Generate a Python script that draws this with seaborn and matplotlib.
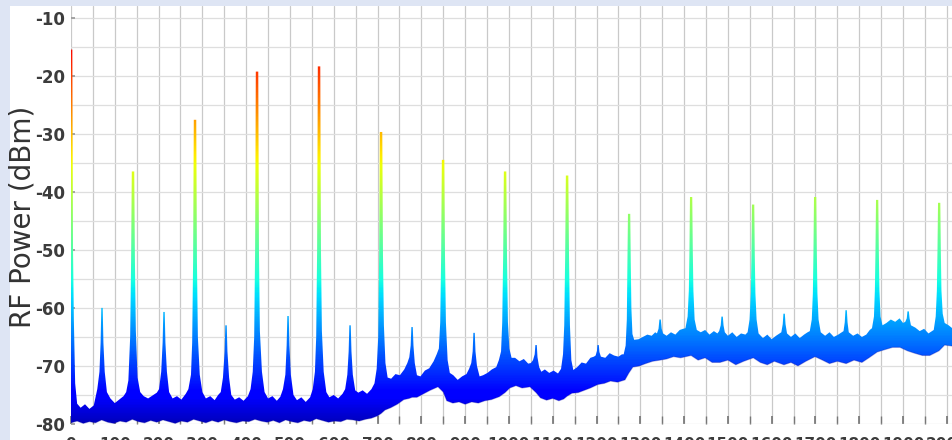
"""
RF spectrum plot: harmonic comb with jet-colored trace
"""
import numpy as np
import pandas as pd
import matplotlib
matplotlib.use('Agg')
import matplotlib.pyplot as plt
from matplotlib.patches import Rectangle
from matplotlib.ticker import MultipleLocator
import seaborn as sns

sns.set_theme(style='whitegrid')
plt.rcParams['font.family'] = ['DejaVu Sans']
plt.rcParams['axes.unicode_minus'] = False

# ============================================================
# Data (frequency in MHz, power in dBm)
# upper edge of the trace: peaks + noise floor top
# ============================================================
trace_mhz = [
    0, 3, 4.6, 6.5, 9.5, 14,
    22, 32, 42, 52,
    60, 65, 67.6, 69.2, 72.4, 74, 77, 82,
    90, 100, 110, 120,
    126, 131, 135.1, 137.2, 138.8, 144.4, 146, 148.1, 152, 158,
    166, 176, 186, 196,
    201, 206, 209.2, 210.8, 214, 215.6, 219, 224,
    232, 242, 252, 262,
    268, 274, 276.7, 278.8, 280.4, 286, 287.6, 289.7, 294, 300,
    308, 318, 328, 336,
    342, 347, 350.8, 352.4, 355.6, 357.2, 361, 366,
    374, 384, 394, 404,
    410, 415, 418.3, 420.4, 422, 427.6, 429.2, 431.3, 436, 442,
    450, 460, 470, 478,
    484, 489.5, 492.4, 494, 497.2, 498.8, 502, 508,
    516, 526, 536, 546,
    552, 557, 559.9, 562, 563.6, 569.2, 570.8, 572.9, 577, 583,
    590, 600, 610, 620,
    626, 631, 634, 635.6, 638.8, 640.4, 643.5, 649,
    656, 666, 676, 686,
    693, 698, 701.5, 703.6, 705.2, 710.8, 712.4, 714.5, 718, 723,
    731, 741, 751, 761,
    768, 772.5, 775.6, 777.2, 780.4, 782, 785, 790,
    798, 808, 818, 828,
    835, 840, 843.1, 845.2, 846.8, 852.4, 854, 856.1, 860, 865,
    873, 883, 893, 903,
    909, 914, 917.2, 918.8, 922, 923.6, 927, 933,
    941, 951, 961, 971,
    977, 982, 984.7, 986.8, 988.4, 994, 995.6, 997.7, 1001, 1006,
    1014, 1024, 1034, 1044,
    1050, 1055, 1058.8, 1060.4, 1063.6, 1065.2, 1069, 1074,
    1082, 1092, 1102, 1112,
    1119, 1123.5, 1126.3, 1128.4, 1130, 1135.6, 1137.2, 1139.3, 1142.5, 1147,
    1156, 1166, 1176, 1186, 1194,
    1198, 1201, 1202, 1205.2, 1206.6, 1210,
    1220, 1230, 1240, 1250, 1258,
    1262, 1266.5, 1269.2, 1270.6, 1271.8, 1277, 1278.2, 1279.6, 1282, 1286,
    1296, 1306, 1316, 1326, 1334,
    1338, 1341.6, 1343.6, 1346.8, 1348.8, 1352,
    1360, 1370, 1380, 1390, 1398,
    1403, 1408, 1410.8, 1412.2, 1413.4, 1418.6, 1419.8, 1421.2, 1424, 1429,
    1438, 1448, 1458, 1468, 1476,
    1480, 1483.6, 1485.2, 1488.4, 1490, 1493,
    1500, 1510, 1520, 1530, 1540,
    1545, 1549.5, 1552.4, 1553.8, 1555, 1560.2, 1561.4, 1562.8, 1565.5, 1570,
    1580, 1590, 1600, 1610, 1618,
    1622, 1625.2, 1626.8, 1630, 1631.6, 1635,
    1644, 1654, 1664, 1674, 1682,
    1687, 1691.5, 1694, 1695.4, 1696.6, 1701.8, 1703, 1704.4, 1707, 1712,
    1722, 1732, 1742, 1752, 1760,
    1764, 1766.8, 1768.4, 1771.6, 1773.2, 1776,
    1786, 1796, 1806, 1816, 1824,
    1829, 1833.5, 1835.6, 1837, 1838.2, 1843.4, 1844.6, 1846, 1848.5, 1853,
    1862, 1872, 1882, 1892, 1900,
    1905, 1908.4, 1910, 1913.2, 1914.8, 1918,
    1928, 1938, 1948, 1958, 1966,
    1970, 1974.5, 1977.2, 1978.6, 1979.8, 1985, 1986.2, 1987.6, 1990.5, 1995,
    2004, 2014,
]
trace_dbm = [
    -15.5, -15.5, -50, -62, -73, -76.5,
    -77.2, -76.6, -77.4, -76.8,
    -74, -71, -66, -60, -60, -66, -71, -74.5,
    -75.6, -76.4, -75.8, -75.2,
    -74.5, -72.5, -65, -52, -36.5, -36.5, -52, -64, -72, -74.5,
    -75.2, -75.6, -75.1, -74.6,
    -74, -71, -66, -60.7, -60.7, -66, -71, -74.5,
    -75.6, -75.2, -75.8, -74.8,
    -74, -71.5, -66, -52, -27.6, -27.6, -52, -65, -71.5, -74.5,
    -75.6, -75.2, -75.9, -75,
    -74.5, -72, -67.5, -63, -63, -67.5, -72, -75,
    -75.8, -75.4, -76, -75.2,
    -74, -71, -65, -50, -19.3, -19.3, -50, -64, -71, -74.5,
    -75.6, -75.2, -76, -75.3,
    -74, -71.5, -66.5, -61.4, -61.4, -66.5, -71.5, -75,
    -75.9, -75.4, -76.2, -75.4,
    -74, -71, -65, -50, -18.4, -18.4, -50, -64, -71, -74.5,
    -75.4, -75, -75.6, -74.8,
    -74, -71.5, -67.5, -63, -63, -67.5, -71.5, -74.2,
    -74.6, -74.2, -74.8, -74,
    -73, -70.5, -65, -51, -29.7, -29.7, -51, -63, -69.5, -72,
    -72.2, -71.4, -71.6, -70.6,
    -69.5, -68.5, -66.5, -63.3, -63.3, -66.5, -69.5, -71.6,
    -71.8, -70.8, -70.4, -69.2,
    -68, -67, -62.5, -51, -34.5, -34.5, -51, -62.5, -69, -71.2,
    -71.6, -72.4, -71.8, -71.4,
    -70.5, -69.5, -67.5, -64.3, -64.3, -67.5, -70, -71.8,
    -71.6, -71.2, -70.6, -70.2,
    -69, -67.5, -62.5, -51, -36.5, -36.5, -51, -62.5, -67, -68.6,
    -68.6, -69.2, -68.8, -69.6,
    -69.5, -69, -68, -66.4, -66.4, -68.5, -70.2, -71,
    -70.6, -71.2, -70.8, -71.3,
    -70.5, -68, -63, -51, -37.2, -37.2, -51, -63, -69, -70.7,
    -70.2, -69.4, -69.6, -68.6, -68.4,
    -68.2, -67.4, -66.4, -66.4, -67.6, -68.4,
    -68.6, -67.8, -68.2, -68.4, -68,
    -68, -66.5, -62, -52, -43.8, -43.8, -52, -60, -64.5, -65.5,
    -65.4, -65, -64.6, -64.8, -64.2,
    -64.4, -63.6, -62, -62, -63.6, -64.4,
    -64.8, -64.2, -64.6, -63.8, -63.6,
    -63.5, -61.5, -57, -50, -40.9, -40.9, -50, -57, -62, -63.8,
    -64.2, -63.8, -64.6, -64, -64.4,
    -64, -63, -61.5, -61.5, -63, -64.2,
    -64.8, -64.2, -65, -64.4, -64.6,
    -64.2, -62, -57.5, -51, -42.2, -42.2, -51, -57.5, -62, -64.4,
    -65.2, -64.6, -65.4, -64.8, -64.4,
    -64.2, -62.8, -61, -61, -62.8, -64.4,
    -65, -64.4, -65.2, -64.6, -64.2,
    -64, -62, -57.5, -50, -40.9, -40.9, -50, -57.5, -62, -64.2,
    -64.8, -64.2, -65, -64.6, -64.2,
    -64, -62.5, -60.4, -60.4, -62.5, -64.2,
    -64.8, -64.4, -65, -64.6, -63.8,
    -63.5, -61.5, -57, -50, -41.4, -41.4, -50, -57, -61.5, -63,
    -62.6, -62, -62.4, -61.8, -62.6,
    -62.4, -61.8, -60.6, -60.6, -61.8, -63,
    -63.4, -64, -63.6, -64.4, -64,
    -63.8, -61.5, -57, -50, -41.9, -41.9, -50, -57, -61, -62.6,
    -63, -63.6,
]

# lower edge of the noise band
floor_mhz = [
    0, 14, 28, 42, 56, 70, 84, 98, 112, 126, 140, 154, 168, 182, 196,
    210, 224, 238, 252, 266, 280, 294, 308, 322, 336, 350, 364, 378, 392,
    406, 420, 434, 448, 462, 476, 490, 504, 518, 532, 546, 560, 574, 588,
    602, 616, 630, 644, 658, 672, 686, 700, 708, 717, 730, 745, 760, 772,
    779, 790, 805, 820, 838, 850, 858, 872, 886, 900, 915, 930, 945, 960,
    978, 991, 1002, 1016, 1030, 1048, 1062, 1072, 1086, 1100, 1114, 1125,
    1133, 1144, 1158, 1172, 1186, 1203, 1218, 1232, 1248, 1265, 1274, 1283,
    1298, 1312, 1328, 1345, 1360, 1376, 1392, 1416, 1432, 1448, 1464, 1482,
    1500, 1518, 1536, 1558, 1574, 1590, 1606, 1628, 1644, 1660, 1678, 1699,
    1716, 1732, 1750, 1770, 1788, 1806, 1822, 1841, 1858, 1876, 1893, 1910,
    1926, 1944, 1961, 1982, 1995, 2014,
]
floor_dbm = [
    -79.8, -79.5, -79.9, -79.6, -79.8, -79.3, -79.7, -79.9, -79.5, -79.7,
    -79.2, -79.6, -79.8, -79.4, -79.7, -79.3, -79.6, -79.9, -79.5, -79.7,
    -79.2, -79.5, -79.8, -79.4, -79.7, -79.3, -79.6, -79.8, -79.5, -79.6,
    -79.2, -79.5, -79.7, -79.4, -79.8, -79.3, -79.6, -79.8, -79.4, -79.6,
    -79.1, -79.4, -79.7, -79.5, -79.6, -79.2, -79.3, -79.5, -79.2, -79.0,
    -78.6, -78.2, -77.6, -77.2, -76.6, -75.8, -75.6, -75.4, -75.4, -74.8,
    -74.2, -73.6, -74.5, -76.0, -76.4, -76.2, -76.6, -76.2, -76.4, -76.0,
    -75.8, -75.3, -74.6, -73.8, -73.4, -73.8, -73.6, -74.6, -75.5, -75.9,
    -75.6, -76.0, -75.7, -75.2, -74.7, -74.6, -74.2, -73.8, -73.2, -73.0,
    -72.6, -72.8, -72.4, -71.2, -70.2, -70.0, -69.6, -69.2, -69.0, -68.8,
    -68.4, -68.6, -68.2, -69.0, -68.6, -69.4, -69.4, -69.0, -69.8, -69.2,
    -68.6, -69.4, -69.8, -69.2, -69.8, -69.4, -70.0, -69.2, -68.4, -69.0,
    -69.6, -69.2, -69.6, -69.0, -69.4, -68.6, -67.6, -67.2, -66.8, -66.8,
    -67.4, -67.8, -68.2, -68.2, -67.4, -66.4, -66.6,
]

y_ticks = [-80, -70, -60, -50, -40, -30, -20, -10]
y_range = [-80, -8]
x_range = [0, 2014]
level_min, level_max = -84, -8   # jet colour scale limits

spec = pd.DataFrame({'freq': trace_mhz, 'power': trace_dbm})
noise = pd.DataFrame({'freq': floor_mhz, 'power': floor_dbm})

# ============================================================
# Figure
# ============================================================
fig = plt.figure(figsize=(9.53, 4.40), dpi=100)
fig.patch.set_facecolor('white')
# lavender frame on left / top
fig.patches.append(Rectangle((0, 0), 10 / 953, 1, transform=fig.transFigure,
                             facecolor='#dee5f4', edgecolor='none', zorder=-5))
fig.patches.append(Rectangle((0, 1 - 6 / 440), 1, 6 / 440, transform=fig.transFigure,
                             facecolor='#dee5f4', edgecolor='none', zorder=-5))

ax = fig.add_axes([71 / 953, 16 / 440, 882 / 953, 418 / 440])
ax.set_facecolor('white')
ax.set_xlim(*x_range)
ax.set_ylim(*y_range)

# polygon of the trace (top edge + bottom edge of the noise band)
poly = ax.fill(np.concatenate([spec['freq'], noise['freq'][::-1]]),
               np.concatenate([spec['power'], noise['power'][::-1]]),
               facecolor='none', edgecolor='none', zorder=2)[0]

# jet gradient by power level, clipped to the trace
grad = np.linspace(y_range[0], y_range[1], 400).reshape(-1, 1)
im = ax.imshow(grad, extent=[x_range[0], x_range[1], y_range[0], y_range[1]],
               origin='lower', aspect='auto', cmap=plt.get_cmap('jet'),
               vmin=level_min, vmax=level_max, zorder=2, interpolation='bilinear')
im.set_clip_path(poly)

# slightly darker bottom of the noise band
sns.lineplot(data=noise, x='freq', y='power', color='#0a0a9c', lw=0.8,
             alpha=0.3, ax=ax, zorder=3)

# grid
ax.xaxis.set_major_locator(MultipleLocator(100))
ax.xaxis.set_minor_locator(MultipleLocator(50))
ax.set_yticks(y_ticks)
ax.yaxis.set_minor_locator(MultipleLocator(5))
ax.grid(which='both', axis='x', color='#c9c9c9', lw=0.9)
ax.grid(which='both', axis='y', color='#dedede', lw=0.9)
ax.set_axisbelow(True)
for s in ax.spines.values():
    s.set_visible(False)

ax.tick_params(axis='y', which='major', direction='in', length=3, color='#999999',
               labelsize=12, labelcolor='#3c3c3c', pad=4, left=True)
ax.tick_params(axis='y', which='minor', left=False)
ax.tick_params(axis='x', which='both', direction='in', length=6, color='#777777',
               labelsize=11, labelcolor='#3c3c3c', pad=9, bottom=True)
for lbl in ax.get_yticklabels() + ax.get_xticklabels():
    lbl.set_fontweight('bold')
ax.set_xlabel('')
ax.set_ylabel('')

fig.text(23 / 953, 1 - 217 / 440, 'RF Power (dBm)', rotation=90,
         ha='center', va='center', fontsize=20, color='#333333')

fig.savefig('out.png', dpi=100)
